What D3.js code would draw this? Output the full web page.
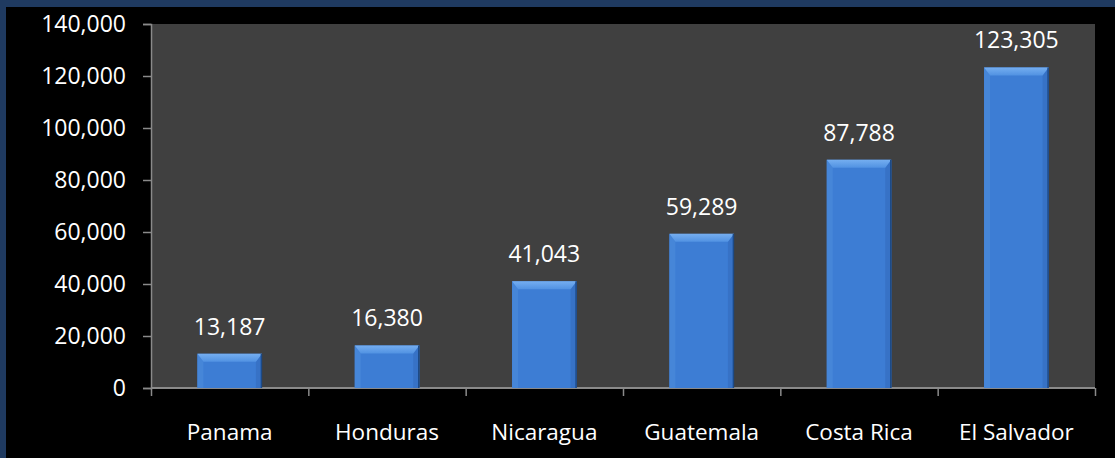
<!DOCTYPE html>
<html>
<head>
<meta charset="utf-8">
<script src="https://cdn.jsdelivr.net/npm/d3@7"></script>
<style>
  body { margin: 0; background: #000; }
  svg text { font-family: "Open Sans", Lato, sans-serif; fill: #fff; }
</style>
</head>
<body>
<div id="chart"></div>
<script>
// data
var countries = ["Panama", "Honduras", "Nicaragua", "Guatemala", "Costa Rica", "El Salvador"];
var values = [13187, 16380, 41043, 59289, 87788, 123305];
var yTicks = [0, 20000, 40000, 60000, 80000, 100000, 120000, 140000];

var W = 1115, H = 458;
var margin = {top: 24, right: 20, bottom: 70, left: 151},
    width = 1095 - margin.left,
    height = 388 - margin.top;

var svg = d3.select("#chart")
            .append("svg")
            .attr("width", W)
            .attr("height", H);

// outer frame: dark blue strip on top and left
svg.append("rect").attr("width", W).attr("height", H).attr("fill", "#1f3a60");
svg.append("rect").attr("x", 6).attr("y", 7).attr("width", W - 6).attr("height", H - 7).attr("fill", "#000");

var g = svg.append("g")
           .attr("transform", "translate(" + margin.left + "," + margin.top + ")");

// plot area
g.append("rect").attr("width", width).attr("height", height).attr("fill", "#404040");

var x = d3.scaleBand()
          .domain(countries)
          .range([0, width])
          .paddingInner(0.59)
          .paddingOuter(0.295);

var y = d3.scaleLinear()
          .domain([0, 140000])
          .range([height, 0]);

// y axis
var yAxis = g.append("g")
             .call(d3.axisLeft(y).tickValues(yTicks).tickSize(8).tickPadding(17)
                   .tickFormat(d3.format(",")));
yAxis.selectAll("line").attr("stroke", "#8a8a8a").attr("stroke-width", 1.5);
yAxis.select(".domain").attr("stroke", "#8a8a8a").attr("stroke-width", 1.5);
yAxis.selectAll("text").style("font-size", "23px").attr("fill", "#fff");

// x axis with ticks on category boundaries
var xb = d3.scaleLinear().domain([0, countries.length]).range([0, width]);
var xAxis = g.append("g")
             .attr("transform", "translate(0," + height + ")")
             .call(d3.axisBottom(xb).ticks(countries.length).tickSize(8).tickFormat(""));
xAxis.selectAll("line").attr("stroke", "#8a8a8a").attr("stroke-width", 1.5);
xAxis.select(".domain").attr("stroke", "#8a8a8a").attr("stroke-width", 2)
     .attr("d", "M0,0H" + width);

g.append("g").selectAll("text")
 .data(countries)
 .enter().append("text")
 .attr("x", function (d) { return x(d) + x.bandwidth() / 2; })
 .attr("y", height + 52)
 .attr("text-anchor", "middle")
 .style("font-size", "22.5px")
 .text(function (d) { return d; });

// bars with bevel
var bev = 8, side = 6;
var defs = svg.append("defs");
var tg = defs.append("linearGradient").attr("id", "topbev")
             .attr("x1", 0).attr("y1", 0).attr("x2", 0).attr("y2", 1);
tg.append("stop").attr("offset", "0%").attr("stop-color", "#75aef0");
tg.append("stop").attr("offset", "100%").attr("stop-color", "#5192e2");

var bars = g.selectAll("g.bar")
            .data(values)
            .enter().append("g")
            .attr("class", "bar");

bars.append("rect")
    .attr("x", function (d, i) { return x(countries[i]); })
    .attr("y", function (d) { return y(d); })
    .attr("width", x.bandwidth())
    .attr("height", function (d) { return height - y(d); })
    .attr("fill", "#3d7dd4");

// left side strip
bars.append("polygon")
    .attr("points", function (d, i) {
        var x0 = x(countries[i]), t = y(d);
        return [[x0, t], [x0 + side, t + bev], [x0 + side, height], [x0, height]].join(" ");
    })
    .attr("fill", "#4686d8");

// right side strip
bars.append("polygon")
    .attr("points", function (d, i) {
        var x1 = x(countries[i]) + x.bandwidth(), t = y(d);
        return [[x1, t], [x1 - side, t + bev], [x1 - side, height], [x1, height]].join(" ");
    })
    .attr("fill", "#3772c6");

// top bevel
bars.append("polygon")
    .attr("points", function (d, i) {
        var x0 = x(countries[i]), x1 = x0 + x.bandwidth(), t = y(d);
        return [[x0, t], [x1, t], [x1 - side, t + bev], [x0 + side, t + bev]].join(" ");
    })
    .attr("fill", "url(#topbev)");

// dark right edge
bars.append("line")
    .attr("x1", function (d, i) { return x(countries[i]) + x.bandwidth() - 0.5; })
    .attr("x2", function (d, i) { return x(countries[i]) + x.bandwidth() - 0.5; })
    .attr("y1", function (d) { return y(d); })
    .attr("y2", height)
    .attr("stroke", "#1d4a86")
    .attr("stroke-width", 1.5);

// value labels
bars.append("text")
    .attr("x", function (d, i) { return x(countries[i]) + x.bandwidth() / 2; })
    .attr("y", function (d) { return y(d) - 19; })
    .attr("text-anchor", "middle")
    .style("font-size", "23px")
    .text(function (d) { return d3.format(",")(d); });
</script>
</body>
</html>
